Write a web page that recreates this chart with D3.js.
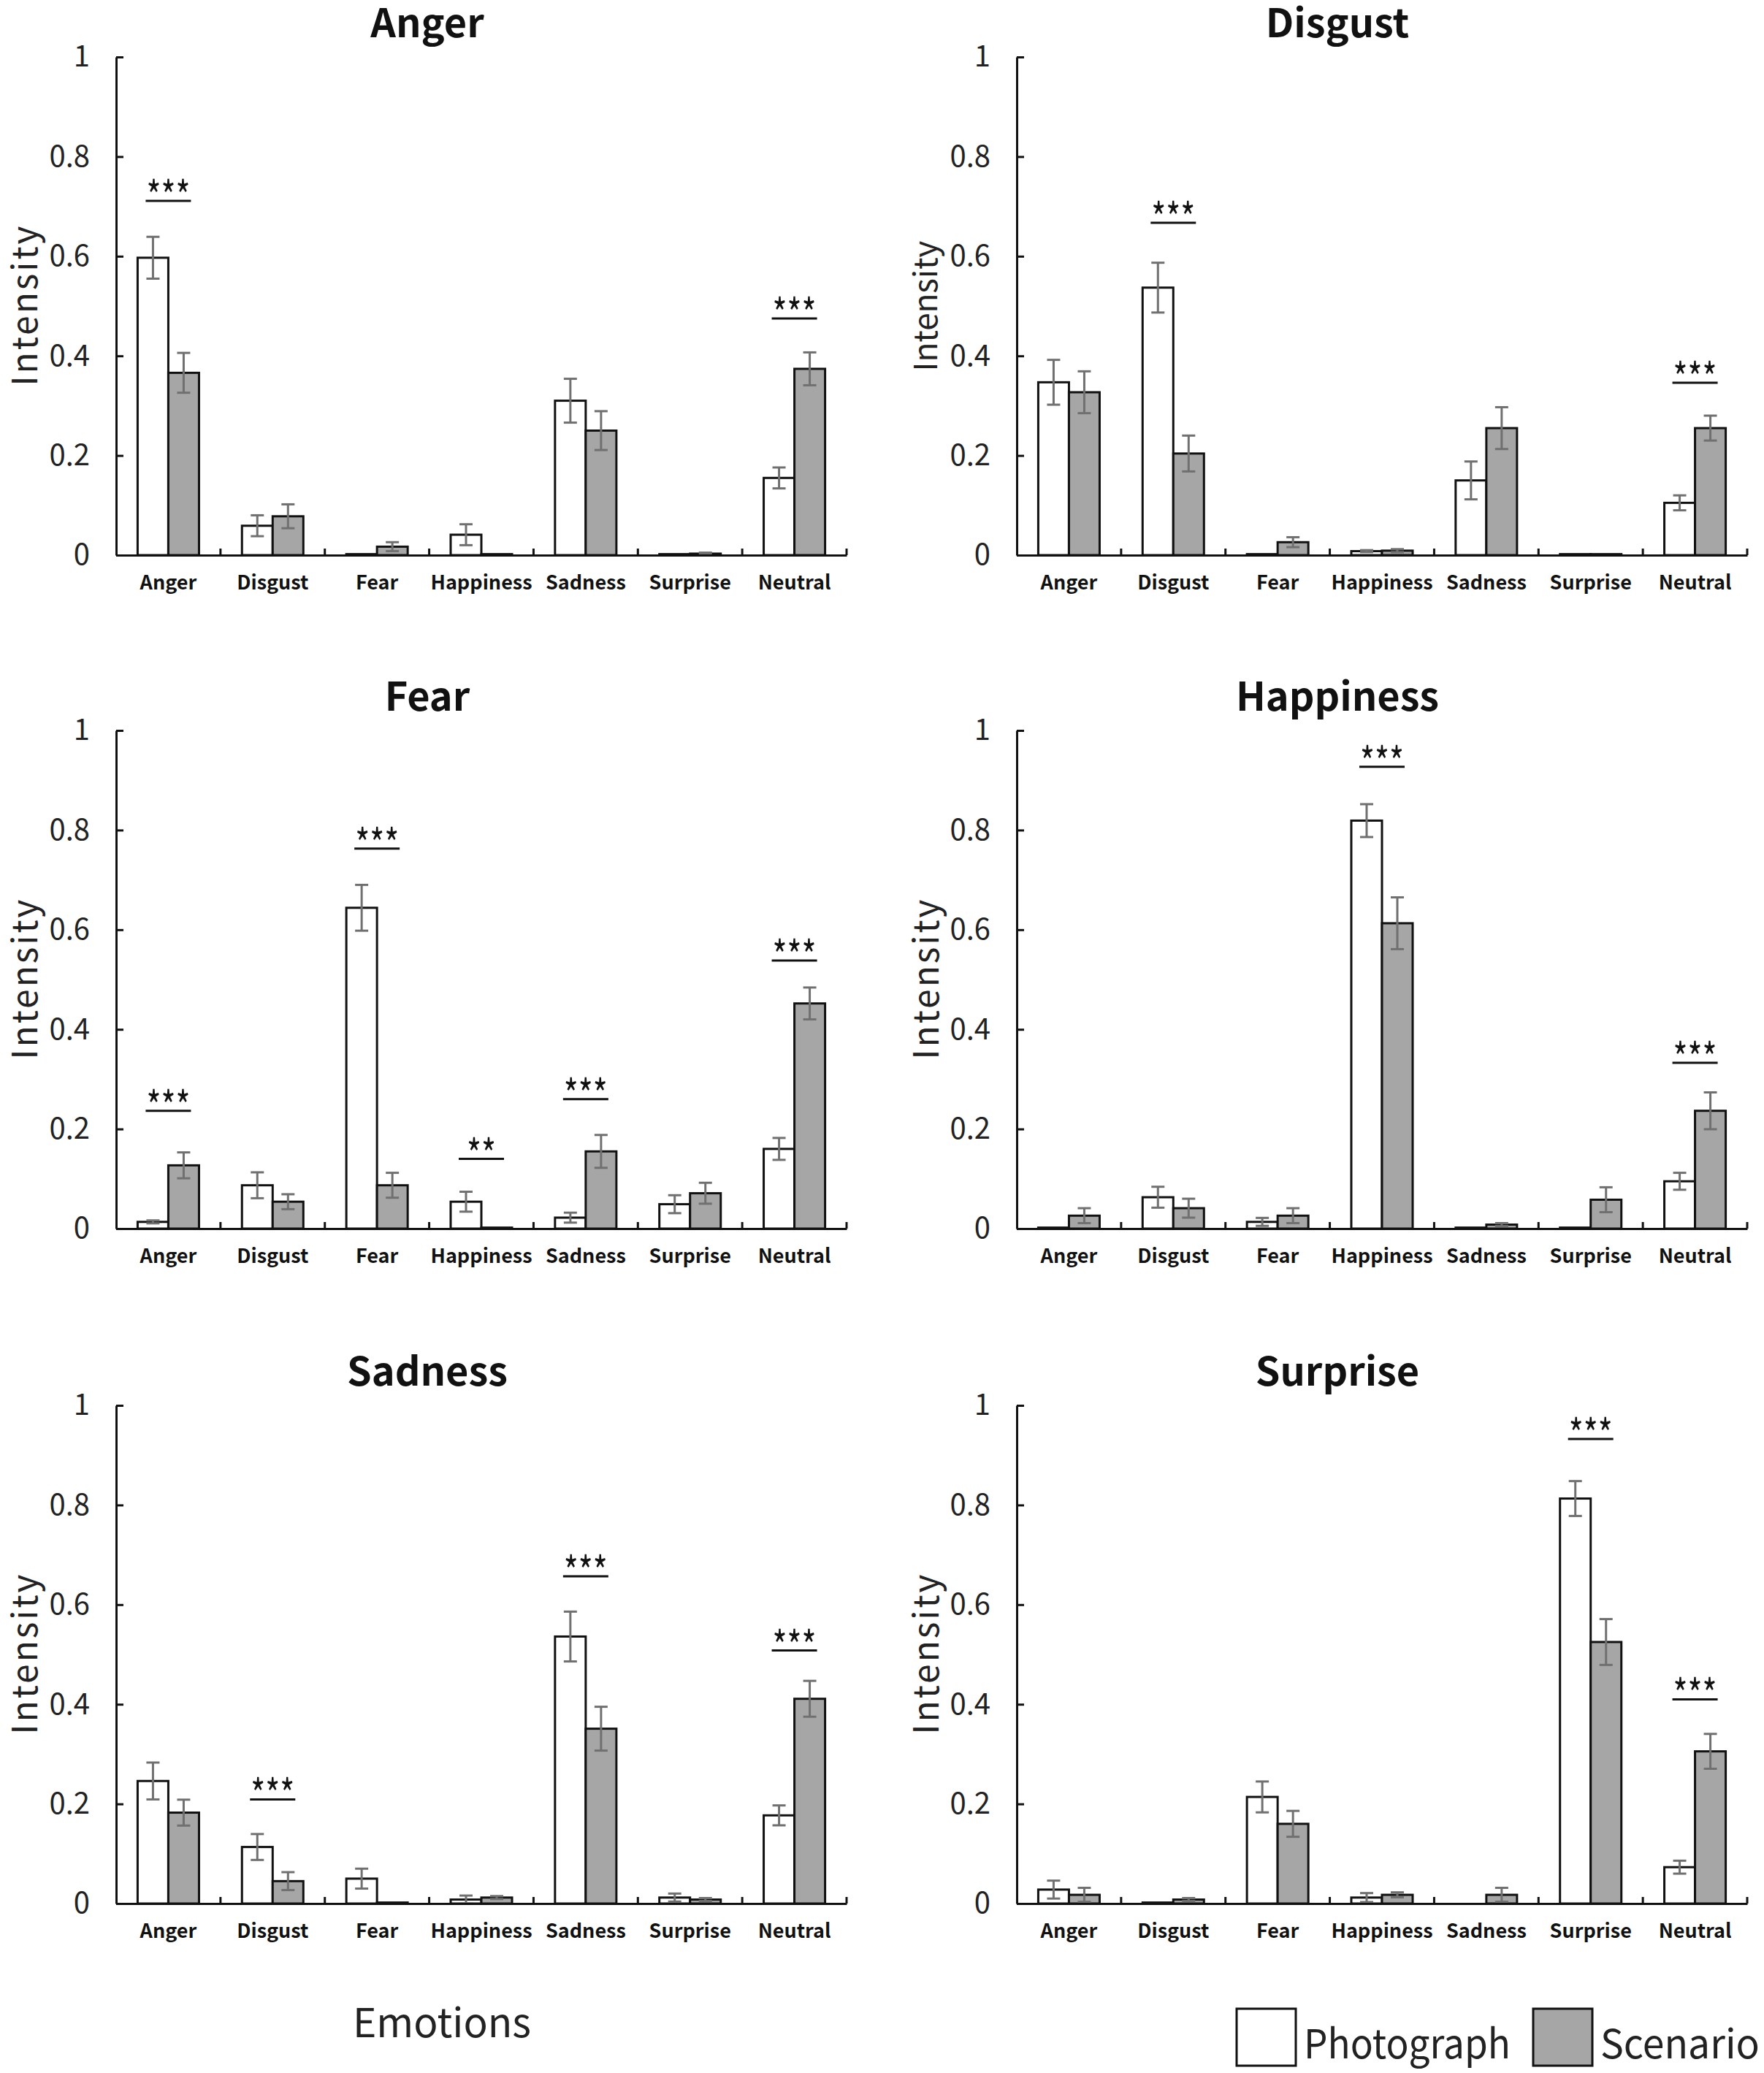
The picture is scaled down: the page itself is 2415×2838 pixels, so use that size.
<!DOCTYPE html>
<html>
<head>
<meta charset="utf-8">
<script src="https://cdn.jsdelivr.net/npm/d3@7"></script>
<style>
  body { margin: 0; background: #fff; }
  svg { display: block; font-family: "Noto Sans CJK JP", "Noto Sans", sans-serif; }
</style>
</head>
<body>
<svg id="chart" width="2415" height="2838"></svg>
<script>
const categories = ['Anger', 'Disgust', 'Fear', 'Happiness', 'Sadness', 'Surprise', 'Neutral'];
const yTicks = [0, 0.2, 0.4, 0.6, 0.8, 1];
const seriesNames = ['Photograph', 'Scenario'];

// one panel per stimulus emotion: mean intensity and error bar half-length
const panelTitles = ['Anger', 'Disgust', 'Fear', 'Happiness', 'Sadness', 'Surprise'];

const angerPhoto = [0.597, 0.059, 0.002, 0.041, 0.310, 0.002, 0.155];
const angerPhotoErr = [0.042, 0.021, 0, 0.021, 0.044, 0, 0.021];
const angerScen = [0.366, 0.078, 0.017, 0.002, 0.250, 0.003, 0.374];
const angerScenErr = [0.040, 0.024, 0.009, 0, 0.039, 0.002, 0.033];
const angerStars = [['Anger', 0.711, '***'], ['Neutral', 0.475, '***']];

const disgustPhoto = [0.347, 0.537, 0.002, 0.008, 0.150, 0.002, 0.105];
const disgustPhotoErr = [0.045, 0.050, 0, 0.002, 0.038, 0, 0.015];
const disgustScen = [0.327, 0.204, 0.026, 0.009, 0.255, 0.002, 0.255];
const disgustScenErr = [0.042, 0.036, 0.010, 0.003, 0.042, 0, 0.025];
const disgustStars = [['Disgust', 0.667, '***'], ['Neutral', 0.346, '***']];

const fearPhoto = [0.0135, 0.087, 0.644, 0.054, 0.022, 0.049, 0.160];
const fearPhotoErr = [0.003, 0.026, 0.046, 0.020, 0.010, 0.018, 0.022];
const fearScen = [0.127, 0.054, 0.087, 0.002, 0.155, 0.071, 0.452];
const fearScenErr = [0.026, 0.015, 0.025, 0, 0.033, 0.021, 0.032];
const fearStars = [['Anger', 0.2365, '***'], ['Fear', 0.763, '***'], ['Happiness', 0.14, '**'],
  ['Sadness', 0.26, '***'], ['Neutral', 0.538, '***']];

const happinessPhoto = [0.002, 0.063, 0.0135, 0.819, 0.002, 0.002, 0.095];
const happinessPhotoErr = [0, 0.021, 0.008, 0.033, 0, 0, 0.017];
const happinessScen = [0.026, 0.041, 0.026, 0.613, 0.008, 0.058, 0.2365];
const happinessScenErr = [0.015, 0.019, 0.015, 0.052, 0.003, 0.025, 0.037];
const happinessStars = [['Happiness', 0.927, '***'], ['Neutral', 0.333, '***']];

const sadnessPhoto = [0.246, 0.1135, 0.050, 0.008, 0.536, 0.012, 0.177];
const sadnessPhotoErr = [0.037, 0.026, 0.020, 0.008, 0.050, 0.008, 0.020];
const sadnessScen = [0.1825, 0.045, 0.002, 0.012, 0.351, 0.008, 0.411];
const sadnessScenErr = [0.026, 0.018, 0, 0.003, 0.044, 0.003, 0.036];
const sadnessStars = [['Disgust', 0.209, '***'], ['Sadness', 0.657, '***'], ['Neutral', 0.508, '***']];

const surprisePhoto = [0.028, 0.002, 0.214, 0.012, 0, 0.813, 0.073];
const surprisePhotoErr = [0.018, 0, 0.031, 0.009, 0, 0.035, 0.013];
const surpriseScen = [0.0175, 0.008, 0.160, 0.0175, 0.0175, 0.525, 0.3055];
const surpriseScenErr = [0.014, 0.003, 0.026, 0.005, 0.014, 0.046, 0.035];
const surpriseStars = [['Surprise', 0.9325, '***'], ['Neutral', 0.41, '***']];

const panelSeries = [
  [angerPhoto, angerPhotoErr, angerScen, angerScenErr, angerStars],
  [disgustPhoto, disgustPhotoErr, disgustScen, disgustScenErr, disgustStars],
  [fearPhoto, fearPhotoErr, fearScen, fearScenErr, fearStars],
  [happinessPhoto, happinessPhotoErr, happinessScen, happinessScenErr, happinessStars],
  [sadnessPhoto, sadnessPhotoErr, sadnessScen, sadnessScenErr, sadnessStars],
  [surprisePhoto, surprisePhotoErr, surpriseScen, surpriseScenErr, surpriseStars],
];

const colX = [159, 1392];
const rowY = [78, 1000, 1924];
const titleX = [585, 1831];
const ylabelX = [30, 1264];
const plotW = 1000;
const plotH = 682;
const fills = {Photograph: '#ffffff', Scenario: '#a6a6a6'};
const errColor = '#707070';

const svg = d3.select('svg#chart');

function drawPanel(i) {
  const col = i % 2;
  const row = Math.floor(i / 2);
  const [photo, photoErr, scen, scenErr, stars] = panelSeries[i];
  const left = colX[col];
  const top = rowY[row];

  const g = svg.append('g').attr('transform', `translate(${left},${top})`);

  const x = d3.scaleBand().domain(categories).range([0, plotW]).padding(0);
  const xs = d3.scaleBand().domain(seriesNames).range([0, x.bandwidth()])
    .paddingInner(0).paddingOuter(0.7);
  const y = d3.scaleLinear().domain([0, 1]).range([plotH, 0]);

  const rows = categories.map((c, k) => ({
    cat: c,
    vals: [
      {s: 'Photograph', v: photo[k], e: photoErr[k]},
      {s: 'Scenario', v: scen[k], e: scenErr[k]},
    ],
  }));

  const groups = g.selectAll('g.grp').data(rows).enter()
    .append('g')
    .attr('class', 'grp')
    .attr('transform', (d) => `translate(${x(d.cat)},0)`);

  groups.selectAll('rect').data((d) => d.vals).enter()
    .append('rect')
    .attr('x', (d) => xs(d.s))
    .attr('y', (d) => y(d.v))
    .attr('width', xs.bandwidth())
    .attr('height', (d) => y(0) - y(d.v))
    .attr('fill', (d) => fills[d.s])
    .attr('stroke', '#111')
    .attr('stroke-width', 3);

  const errs = groups.selectAll('g.err').data((d) => d.vals.filter((v) => v.e > 0)).enter()
    .append('g')
    .attr('class', 'err')
    .attr('stroke', errColor)
    .attr('stroke-width', 3);
  errs.append('line')
    .attr('x1', (d) => xs(d.s) + xs.bandwidth() / 2)
    .attr('x2', (d) => xs(d.s) + xs.bandwidth() / 2)
    .attr('y1', (d) => y(d.v + d.e))
    .attr('y2', (d) => y(Math.max(0, d.v - d.e)));
  ['+', '-'].forEach((sign) => {
    errs.append('line')
      .attr('x1', (d) => xs(d.s) + xs.bandwidth() / 2 - 9)
      .attr('x2', (d) => xs(d.s) + xs.bandwidth() / 2 + 9)
      .attr('y1', (d) => y(sign === '+' ? d.v + d.e : Math.max(0, d.v - d.e)))
      .attr('y2', (d) => y(sign === '+' ? d.v + d.e : Math.max(0, d.v - d.e)));
  });

  // axes
  const yAxis = d3.axisLeft(y).tickValues(yTicks).tickSize(-10).tickSizeOuter(0)
    .tickPadding(36).tickFormat((d) => String(+d.toFixed(1)));
  const ya = g.append('g').call(yAxis);
  ya.selectAll('path, line').attr('stroke', '#111').attr('stroke-width', 3);
  ya.selectAll('text').attr('font-size', 40).attr('fill', '#222')
    .attr('font-family', '"Noto Sans CJK JP", sans-serif');

  const xAxis = d3.axisBottom(x).tickSize(0).tickPadding(28);
  const xa = g.append('g').attr('transform', `translate(0,${plotH})`).call(xAxis);
  xa.select('path').attr('stroke', '#111').attr('stroke-width', 3);
  xa.selectAll('text').attr('font-size', 27).attr('font-weight', 'bold').attr('fill', '#111')
    .attr('font-family', '"Noto Sans CJK JP", sans-serif');

  g.selectAll('line.bound').data(categories).enter()
    .append('line')
    .attr('class', 'bound')
    .attr('x1', (c) => x(c) + x.bandwidth())
    .attr('x2', (c) => x(c) + x.bandwidth())
    .attr('y1', plotH)
    .attr('y2', plotH - 9)
    .attr('stroke', '#111')
    .attr('stroke-width', 3);

  // significance marks
  const sig = g.selectAll('g.sig').data(stars).enter()
    .append('g')
    .attr('class', 'sig')
    .attr('transform', (d) => `translate(${x(d[0]) + x.bandwidth() / 2},${y(d[1])})`);
  sig.append('line')
    .attr('x1', -31).attr('x2', 31)
    .attr('stroke', '#111').attr('stroke-width', 3);
  sig.append('text')
    .attr('text-anchor', 'middle')
    .attr('y', 14)
    .attr('font-size', 56)
    .attr('textLength', (d) => d[2].length * 20)
    .attr('lengthAdjust', 'spacingAndGlyphs')
    .attr('fill', '#111')
    .text((d) => d[2]);

  // title and y label
  svg.append('text')
    .attr('x', titleX[col])
    .attr('y', top - 27)
    .attr('text-anchor', 'middle')
    .attr('font-size', 54)
    .attr('font-weight', 'bold')
    .attr('fill', '#111')
    .text(panelTitles[i]);

  const small = i === 1;
  svg.append('text')
    .attr('transform', `translate(${ylabelX[col]},${top + plotH / 2}) rotate(-90)`)
    .attr('text-anchor', 'middle')
    .attr('dominant-baseline', 'central')
    .attr('font-size', small ? 44 : 48)
    .attr('textLength', small ? 179 : 219)
    .attr('lengthAdjust', 'spacing')
    .attr('fill', '#222')
    .text('Intensity');
}

function drawLegend() {
  svg.append('text')
    .attr('x', 605)
    .attr('y', 2789)
    .attr('text-anchor', 'middle')
    .attr('font-size', 55)
    .attr('fill', '#222')
    .text('Emotions');

  const lx = [1693, 2099];
  const textW = [283, 218];
  const items = svg.selectAll('g.leg').data(seriesNames).enter()
    .append('g')
    .attr('class', 'leg')
    .attr('transform', (d, k) => `translate(${lx[k]},2750)`);
  items.append('rect')
    .attr('width', 81)
    .attr('height', 78)
    .attr('fill', (d) => fills[d])
    .attr('stroke', '#111')
    .attr('stroke-width', 3);
  items.append('text')
    .attr('x', 92)
    .attr('y', 68)
    .attr('font-size', 55)
    .attr('textLength', (d, k) => textW[k])
    .attr('lengthAdjust', 'spacingAndGlyphs')
    .attr('fill', '#222')
    .text((d) => d);
}

window.addEventListener('load', function() {
  svg.append('rect').attr('width', 2415).attr('height', 2838).attr('fill', '#fff');
  panelTitles.forEach((t, i) => drawPanel(i));
  drawLegend();
});
</script>
</body>
</html>
